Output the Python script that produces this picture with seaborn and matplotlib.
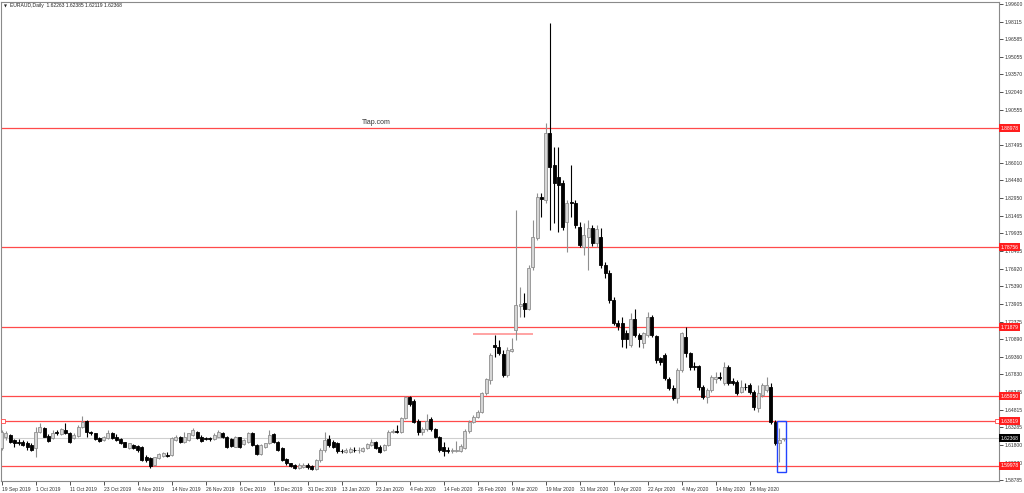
import matplotlib
matplotlib.use("Agg")
import matplotlib.pyplot as plt
import matplotlib.patches as mpatches
import matplotlib.transforms as mtransforms
import seaborn as sns
import numpy as np
import pandas as pd

# EURAUD daily candles, 19 Sep 2019 .. early Jun 2020
opens = [
    1.6150, 1.6244, 1.6264, 1.6221, 1.6207, 1.6207, 1.6193, 1.6178, 1.6150, 1.6293,
    1.6327, 1.6258, 1.6236, 1.6293, 1.6273, 1.6307, 1.6278, 1.6236, 1.6256, 1.6336,
    1.6384, 1.6293, 1.6278, 1.6236, 1.6221, 1.6236, 1.6278, 1.6250, 1.6227, 1.6201,
    1.6150, 1.6178, 1.6170, 1.6164, 1.6078, 1.6064, 1.6007, 1.6064, 1.6084, 1.6093,
    1.6093, 1.6221, 1.6244, 1.6207, 1.6221, 1.6264, 1.6287, 1.6250, 1.6236, 1.6236,
    1.6227, 1.6250, 1.6284, 1.6250, 1.6227, 1.6164, 1.6244, 1.6187, 1.6207, 1.6284,
    1.6178, 1.6101, 1.6158, 1.6193, 1.6273, 1.6207, 1.6150, 1.6058, 1.6021, 1.6007,
    1.5978, 1.5992, 1.6007, 1.5998, 1.5970, 1.6050, 1.6135, 1.6227, 1.6207, 1.6193,
    1.6130, 1.6121, 1.6121, 1.6138, 1.6133, 1.6130, 1.6150, 1.6178, 1.6207, 1.6164,
    1.6135, 1.6178, 1.6290, 1.6296, 1.6293, 1.6407, 1.6587, 1.6559, 1.6387, 1.6293,
    1.6313, 1.6399, 1.6313, 1.6250, 1.6164, 1.6135, 1.6127, 1.6130, 1.6130, 1.6150,
    1.6301, 1.6378, 1.6421, 1.6464, 1.6624, 1.6736, 1.7036, 1.7019, 1.6959, 1.6779,
    1.6985, 1.7165, 1.7371, 1.7397, 1.7345, 1.7705, 1.7954, 1.8306, 1.8280, 1.8855,
    1.8581, 1.8478, 1.8426, 1.8091, 1.8263, 1.8255, 1.8049, 1.7877, 1.7963, 1.8040,
    1.7911, 1.7963, 1.7723, 1.7654, 1.7422, 1.7225, 1.7225, 1.7139, 1.7036, 1.7259,
    1.7122, 1.7053, 1.7122, 1.7276, 1.7113, 1.6924, 1.6950, 1.6744, 1.6667, 1.6581,
    1.6822, 1.7105, 1.6967, 1.6856, 1.6856, 1.6676, 1.6590, 1.6650, 1.6744, 1.6761,
    1.6710, 1.6847, 1.6727, 1.6719, 1.6633, 1.6676, 1.6693, 1.6633, 1.6496, 1.6607,
    1.6650, 1.6676, 1.6376, 1.6195, 1.62263,
]
highs = [
    1.6307, 1.6301, 1.6273, 1.6227, 1.6227, 1.6221, 1.6215, 1.6193, 1.6336, 1.6364,
    1.6336, 1.6273, 1.6307, 1.6307, 1.6321, 1.6364, 1.6293, 1.6278, 1.6350, 1.6427,
    1.6393, 1.6301, 1.6284, 1.6244, 1.6256, 1.6307, 1.6293, 1.6273, 1.6236, 1.6207,
    1.6198, 1.6187, 1.6178, 1.6170, 1.6093, 1.6072, 1.6078, 1.6113, 1.6121, 1.6121,
    1.6250, 1.6264, 1.6256, 1.6293, 1.6284, 1.6321, 1.6301, 1.6264, 1.6250, 1.6250,
    1.6278, 1.6307, 1.6293, 1.6256, 1.6236, 1.6256, 1.6250, 1.6227, 1.6293, 1.6293,
    1.6187, 1.6184, 1.6198, 1.6307, 1.6284, 1.6215, 1.6158, 1.6064, 1.6027, 1.6015,
    1.6027, 1.6021, 1.6021, 1.6007, 1.6055, 1.6150, 1.6293, 1.6264, 1.6221, 1.6207,
    1.6141, 1.6150, 1.6158, 1.6164, 1.6164, 1.6164, 1.6198, 1.6227, 1.6215, 1.6178,
    1.6187, 1.6307, 1.6313, 1.6350, 1.6416, 1.6599, 1.6599, 1.6570, 1.6399, 1.6336,
    1.6444, 1.6416, 1.6321, 1.6256, 1.6207, 1.6164, 1.6150, 1.6215, 1.6187, 1.6313,
    1.6393, 1.6436, 1.6479, 1.6636, 1.6753, 1.6967, 1.7122, 1.7079, 1.6993, 1.7019,
    1.7096, 1.8194, 1.7534, 1.7482, 1.7723, 1.8109, 1.8340, 1.8340, 1.8941, 1.9799,
    1.8735, 1.8735, 1.8452, 1.8280, 1.8581, 1.8280, 1.8091, 1.8083, 1.8109, 1.8066,
    1.8066, 1.8040, 1.7748, 1.7680, 1.7448, 1.7251, 1.7276, 1.7165, 1.7311, 1.7345,
    1.7139, 1.7148, 1.7319, 1.7294, 1.7122, 1.6933, 1.6967, 1.6761, 1.6693, 1.6838,
    1.7148, 1.7191, 1.6976, 1.6890, 1.6864, 1.6693, 1.6667, 1.6779, 1.6804, 1.6804,
    1.6890, 1.6864, 1.6753, 1.6736, 1.6736, 1.6710, 1.6710, 1.6650, 1.6693, 1.6710,
    1.6761, 1.6710, 1.6393, 1.6324, 1.62385,
]
lows = [
    1.6135, 1.6221, 1.6198, 1.6164, 1.6178, 1.6170, 1.6135, 1.6127, 1.6078, 1.6278,
    1.6244, 1.6204, 1.6227, 1.6264, 1.6264, 1.6273, 1.6198, 1.6227, 1.6244, 1.6321,
    1.6250, 1.6264, 1.6221, 1.6207, 1.6215, 1.6227, 1.6227, 1.6215, 1.6184, 1.6158,
    1.6141, 1.6141, 1.6121, 1.6044, 1.6035, 1.5978, 1.5998, 1.6055, 1.6078, 1.6078,
    1.6084, 1.6215, 1.6198, 1.6198, 1.6215, 1.6256, 1.6227, 1.6207, 1.6221, 1.6215,
    1.6221, 1.6244, 1.6236, 1.6150, 1.6164, 1.6158, 1.6150, 1.6178, 1.6198, 1.6170,
    1.6093, 1.6093, 1.6150, 1.6187, 1.6198, 1.6127, 1.6044, 1.6007, 1.5987, 1.5970,
    1.5970, 1.5978, 1.5975, 1.5964, 1.5964, 1.6035, 1.6121, 1.6164, 1.6150, 1.6113,
    1.6113, 1.6113, 1.6113, 1.6121, 1.6113, 1.6121, 1.6141, 1.6170, 1.6141, 1.6113,
    1.6130, 1.6170, 1.6278, 1.6278, 1.6284, 1.6399, 1.6513, 1.6370, 1.6264, 1.6264,
    1.6301, 1.6301, 1.6236, 1.6121, 1.6084, 1.6107, 1.6113, 1.6121, 1.6121, 1.6141,
    1.6284, 1.6370, 1.6407, 1.6450, 1.6607, 1.6701, 1.6933, 1.6950, 1.6761, 1.6761,
    1.6976, 1.7079, 1.7276, 1.7276, 1.7336, 1.7680, 1.7937, 1.8134, 1.8255, 1.8023,
    1.8083, 1.8006, 1.8023, 1.7834, 1.8134, 1.8040, 1.7877, 1.7808, 1.7680, 1.7886,
    1.7877, 1.7697, 1.7611, 1.7397, 1.7208, 1.7165, 1.7019, 1.7010, 1.7019, 1.7105,
    1.7019, 1.7010, 1.7105, 1.7105, 1.6881, 1.6864, 1.6736, 1.6650, 1.6564, 1.6539,
    1.6804, 1.6933, 1.6822, 1.6822, 1.6650, 1.6573, 1.6539, 1.6633, 1.6710, 1.6736,
    1.6693, 1.6693, 1.6693, 1.6607, 1.6624, 1.6650, 1.6616, 1.6479, 1.6461, 1.6590,
    1.6633, 1.6358, 1.6178, 1.6032, 1.62119,
]
closes = [
    1.6293, 1.6284, 1.6207, 1.6193, 1.6198, 1.6178, 1.6164, 1.6135, 1.6293, 1.6330,
    1.6250, 1.6213, 1.6284, 1.6278, 1.6313, 1.6278, 1.6207, 1.6264, 1.6336, 1.6378,
    1.6293, 1.6278, 1.6227, 1.6215, 1.6244, 1.6284, 1.6236, 1.6221, 1.6193, 1.6164,
    1.6193, 1.6150, 1.6135, 1.6050, 1.6050, 1.5998, 1.6072, 1.6101, 1.6113, 1.6087,
    1.6236, 1.6250, 1.6207, 1.6250, 1.6278, 1.6307, 1.6236, 1.6215, 1.6230, 1.6227,
    1.6264, 1.6293, 1.6244, 1.6164, 1.6170, 1.6250, 1.6158, 1.6221, 1.6278, 1.6178,
    1.6101, 1.6178, 1.6193, 1.6264, 1.6207, 1.6135, 1.6050, 1.6021, 1.5998, 1.5978,
    1.6007, 1.6007, 1.5987, 1.5970, 1.6050, 1.6135, 1.6221, 1.6178, 1.6164, 1.6130,
    1.6124, 1.6135, 1.6144, 1.6133, 1.6138, 1.6150, 1.6187, 1.6207, 1.6150, 1.6121,
    1.6178, 1.6293, 1.6296, 1.6290, 1.6407, 1.6587, 1.6530, 1.6378, 1.6293, 1.6313,
    1.6387, 1.6313, 1.6250, 1.6135, 1.6127, 1.6130, 1.6133, 1.6135, 1.6170, 1.6301,
    1.6378, 1.6421, 1.6464, 1.6622, 1.6744, 1.6950, 1.7019, 1.6967, 1.6779, 1.6993,
    1.7002, 1.7379, 1.7388, 1.7345, 1.7697, 1.7963, 1.8306, 1.8289, 1.8855, 1.8563,
    1.8426, 1.8409, 1.8049, 1.8255, 1.8255, 1.8066, 1.7894, 1.7980, 1.8040, 1.7911,
    1.8031, 1.7723, 1.7654, 1.7422, 1.7225, 1.7199, 1.7088, 1.7088, 1.7259, 1.7122,
    1.7088, 1.7139, 1.7276, 1.7122, 1.6907, 1.6890, 1.6753, 1.6667, 1.6581, 1.6822,
    1.7139, 1.6967, 1.6847, 1.6847, 1.6676, 1.6590, 1.6650, 1.6761, 1.6761, 1.6753,
    1.6847, 1.6710, 1.6710, 1.6624, 1.6676, 1.6672, 1.6633, 1.6504, 1.6624, 1.6693,
    1.6693, 1.6376, 1.6195, 1.6221, 1.62368,
]

date_labels = ["19 Sep 2019", "1 Oct 2019", "11 Oct 2019", "23 Oct 2019", "4 Nov 2019",
               "14 Nov 2019", "26 Nov 2019", "6 Dec 2019", "18 Dec 2019", "31 Dec 2019",
               "13 Jan 2020", "23 Jan 2020", "4 Feb 2020", "14 Feb 2020", "26 Feb 2020",
               "9 Mar 2020", "19 Mar 2020", "31 Mar 2020", "10 Apr 2020", "22 Apr 2020",
               "4 May 2020", "14 May 2020", "26 May 2020"]
# the 1.89025 step is hidden under the 1.88978 tag in the original
price_ticks = [1.99600, 1.98115, 1.96585, 1.95055, 1.93570, 1.92040, 1.90555,
               1.87495, 1.86010, 1.84480, 1.82950, 1.81465, 1.79935, 1.78405, 1.76920,
               1.75390, 1.73905, 1.72375, 1.70890, 1.69360, 1.67830, 1.66345, 1.64815,
               1.63285, 1.61800, 1.60270, 1.58785]
levels = [1.88978, 1.78756, 1.71879, 1.65950, 1.63819, 1.59978]
last_price = 1.62368
title = "EURAUD,Daily  1.62263 1.62385 1.62119 1.62368"

sns.set_theme(style="white")
plt.rcParams['font.family'] = ['Liberation Sans', 'DejaVu Sans']
small = 3.6

df = pd.DataFrame({"open": opens, "high": highs, "low": lows, "close": closes})
df["bar"] = np.arange(len(df))
up = df.close >= df.open

fig = plt.figure(figsize=(10.24, 4.93), dpi=100)
ax = fig.add_axes([1 / 1024, 12 / 493, 998 / 1024, 479 / 493])

# support / resistance levels
for lv in levels:
    ax.axhline(lv, color="#ff4a4a", lw=0.9, zorder=1)
ax.axhline(last_price, color="#cfcfcf", lw=0.8, zorder=0)
ax.hlines(1.7131, 111, 125, color="#ff9c9c", lw=1.3, zorder=1)

# wicks
ax.vlines(df.bar[up], df.low[up], df.high[up], color="#8f8f8f", lw=0.8, zorder=2)
ax.vlines(df.bar[~up], df.low[~up], df.high[~up], color="black", lw=0.8, zorder=2)

# bodies
body = np.maximum((df.close - df.open).abs(), 0.0004)
bottom = np.minimum(df.open, df.close)
ax.bar(df.bar[up], body[up], bottom=bottom[up], width=0.72,
       color="#d6d6d6", edgecolor="#8f8f8f", linewidth=0.6, zorder=3)
ax.bar(df.bar[~up], body[~up], bottom=bottom[~up], width=0.72,
       color="black", edgecolor="black", linewidth=0.6, zorder=3)

# highlight box round the last candles
ax.add_patch(mpatches.Rectangle((182.4, 1.5946), 2.1, 1.6382 - 1.5946, fill=False,
                                ec="#2244ff", lw=1.0, zorder=4))

ax.text(84.8, 1.8941, "Tlap.com", fontsize=5, color="#333333", va="center")

ax.set_xlim(-0.165, 234.66)
ax.set_ylim(1.58691, 1.99789)

# line anchors on the selected level
ax.plot([0.3, 234.3], [1.63819, 1.63819], "s", ms=2.5, mfc="white", mec="#ff4a4a",
        mew=0.6, clip_on=False, zorder=5)

ax.yaxis.tick_right()
ax.set_yticks(price_ticks)
ax.set_yticklabels([f"{v:.5f}" for v in price_ticks])
ax.tick_params(axis="y", direction="out", length=3, width=0.6, labelsize=small,
               pad=1, colors="#333333", right=True, left=False)
ax.set_xticks(range(0, 177, 8))
ax.set_xticklabels(date_labels, ha="left")
ax.tick_params(axis="x", direction="out", length=3, width=0.6, labelsize=small,
               pad=1, colors="#333333", bottom=True)
for s in ax.spines.values():
    s.set_color("#8a8a8a")
    s.set_linewidth(0.8)

# price tags on the right scale
tr = mtransforms.blended_transform_factory(ax.transAxes, ax.transData)
for lv in levels:
    ax.text(1.0018, lv, f"{lv:.5f}", transform=tr, fontsize=small, color="white",
            va="center", ha="left", zorder=6, clip_on=False,
            bbox=dict(boxstyle="square,pad=0.3", fc="#ff1e1e", ec="none"))
ax.text(1.0018, last_price, f"{last_price:.5f}", transform=tr, fontsize=small, color="white",
        va="center", ha="left", zorder=6, clip_on=False,
        bbox=dict(boxstyle="square,pad=0.3", fc="black", ec="none"))

fig.text(4 / 1024, 1 - 6 / 493, "\u25bc", fontsize=2.8, va="center", color="#222222",
         family=["DejaVu Sans"])
fig.text(10 / 1024, 1 - 6 / 493, title, fontsize=small, va="center", color="#222222")

fig.savefig("out.png", dpi=100)
